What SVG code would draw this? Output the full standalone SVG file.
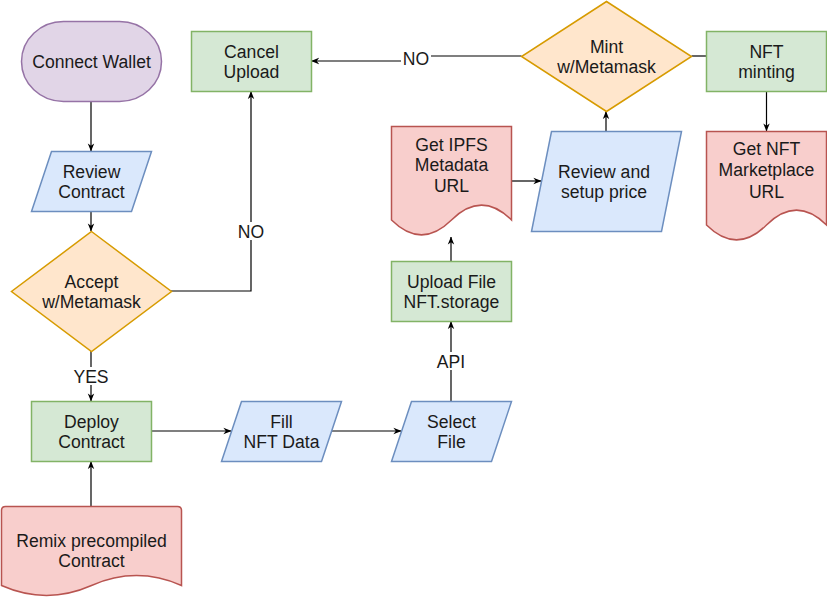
<svg xmlns="http://www.w3.org/2000/svg" width="827" height="597" viewBox="0 0 827 597">
<defs>
<marker id="arr" viewBox="0 0 10 10" refX="9.5" refY="5" markerWidth="8" markerHeight="8" markerUnits="userSpaceOnUse" orient="auto">
<path d="M0,1 L10,5 L0,9 L3,5 Z" fill="#000"/>
</marker>
<style>
text{font-family:"Liberation Sans",Arial,sans-serif;font-size:17.6px;fill:#1a1a1a;text-anchor:middle}
.purple{fill:#e1d5e7;stroke:#9673a6;stroke-width:1.5}
.blue{fill:#dae8fc;stroke:#6c8ebf;stroke-width:1.5}
.green{fill:#d5e8d4;stroke:#82b366;stroke-width:1.5}
.orange{fill:#ffe6cc;stroke:#d79b00;stroke-width:1.5}
.red{fill:#f8cecc;stroke:#b85450;stroke-width:1.5}
.edge{fill:none;stroke:#000;stroke-width:1.2}
.arrow{marker-end:url(#arr)}
.lbl{fill:#fff;stroke:none}
</style>
</defs>
<rect width="827" height="597" fill="#fff"/>
<g id="connectors">
<path class="edge arrow" d="M91,101.5 V151"/>
<path class="edge arrow" d="M91,211 V231"/>
<path class="edge arrow" d="M91,351 V401"/>
<path class="edge arrow" d="M171,291 H251 V91.5"/>
<path class="edge arrow" d="M91,506.5 V461.5"/>
<path class="edge arrow" d="M151.5,431 H231"/>
<path class="edge arrow" d="M331,431 H401"/>
<path class="edge arrow" d="M451,401 V321.5"/>
<path class="edge arrow" d="M451,261.5 V237"/>
<path class="edge arrow" d="M511.5,181 H541"/>
<path class="edge arrow" d="M606,131 V111.5"/>
<path class="edge arrow" d="M521.5,56 H416 V61 H311.5"/>
<path class="edge" d="M691.5,56 H706.5"/>
<path class="edge arrow" d="M766.5,91.5 V131"/>
<rect class="lbl" x="74" y="367" width="34" height="18"/>
<text x="91" y="382.5">YES</text>
<rect class="lbl" x="236" y="222" width="30" height="18"/>
<text x="251" y="237.5">NO</text>
<rect class="lbl" x="401" y="49" width="30" height="18"/>
<text x="416" y="64.5">NO</text>
<rect class="lbl" x="436" y="352" width="30" height="18"/>
<text x="451" y="367.5">API</text>
</g>
<g id="connect-wallet">
<rect class="purple" x="21.5" y="21.5" width="140" height="80" rx="42" ry="40"/>
<text x="91.5" y="67.5">Connect Wallet</text>
</g>
<g id="review-contract">
<polygon class="blue" points="51.5,151.5 151.5,151.5 131.5,211.5 31.5,211.5"/>
<text x="91.5" y="177.5">Review</text>
<text x="91.5" y="198">Contract</text>
</g>
<g id="accept">
<polygon class="orange" points="91.5,231.5 171.5,291.5 91.5,351.5 11.5,291.5"/>
<text x="91.5" y="287.5">Accept</text>
<text x="91.5" y="308">w/Metamask</text>
</g>
<g id="cancel-upload">
<rect class="green" x="191.5" y="31.5" width="120" height="60"/>
<text x="251.5" y="57.5">Cancel</text>
<text x="251.5" y="78">Upload</text>
</g>
<g id="deploy-contract">
<rect class="green" x="31.5" y="401.5" width="120" height="60"/>
<text x="91.5" y="427.5">Deploy</text>
<text x="91.5" y="448">Contract</text>
</g>
<g id="remix">
<path class="red" d="M5.5,506.5 H177.5 Q181.5,506.5 181.5,510.5 V585.5 Q136.5,565.7 91.5,585.5 Q46.5,605.3 1.5,585.5 V510.5 Q1.5,506.5 5.5,506.5 Z"/>
<text x="91.5" y="546.5">Remix precompiled</text>
<text x="91.5" y="567">Contract</text>
</g>
<g id="fill-nft-data">
<polygon class="blue" points="241.5,401.5 341.5,401.5 321.5,461.5 221.5,461.5"/>
<text x="281.5" y="427.5">Fill</text>
<text x="281.5" y="448">NFT Data</text>
</g>
<g id="select-file">
<polygon class="blue" points="411.5,401.5 511.5,401.5 491.5,461.5 391.5,461.5"/>
<text x="451.5" y="427.5">Select</text>
<text x="451.5" y="448">File</text>
</g>
<g id="upload-file">
<rect class="green" x="391.5" y="261.5" width="120" height="60"/>
<text x="451.5" y="287.5">Upload File</text>
<text x="451.5" y="308">NFT.storage</text>
</g>
<g id="get-ipfs">
<path class="red" d="M391.5,126.5 H511.5 V220 Q481.5,190.3 451.5,220 Q421.5,249.7 391.5,220 Z"/>
<text x="451.5" y="150.5">Get IPFS</text>
<text x="451.5" y="171">Metadata</text>
<text x="451.5" y="191.5">URL</text>
</g>
<g id="review-price">
<polygon class="blue" points="551.5,131.5 681.5,131.5 661.5,231.5 531.5,231.5"/>
<text x="604" y="177.5">Review and</text>
<text x="604" y="198">setup price</text>
</g>
<g id="mint">
<polygon class="orange" points="606.5,1.5 691.5,56.5 606.5,111.5 521.5,56.5"/>
<text x="606.5" y="52.5">Mint</text>
<text x="606.5" y="73">w/Metamask</text>
</g>
<g id="nft-minting">
<rect class="green" x="706.5" y="31.5" width="120" height="60"/>
<text x="766.5" y="57.5">NFT</text>
<text x="766.5" y="78">minting</text>
</g>
<g id="get-nft-url">
<path class="red" d="M706.5,131.5 H826.5 V225 Q796.5,195.3 766.5,225 Q736.5,254.7 706.5,225 Z"/>
<text x="766.5" y="154.5">Get NFT</text>
<text x="766.5" y="176">Marketplace</text>
<text x="766.5" y="197.5">URL</text>
</g>
</svg>
